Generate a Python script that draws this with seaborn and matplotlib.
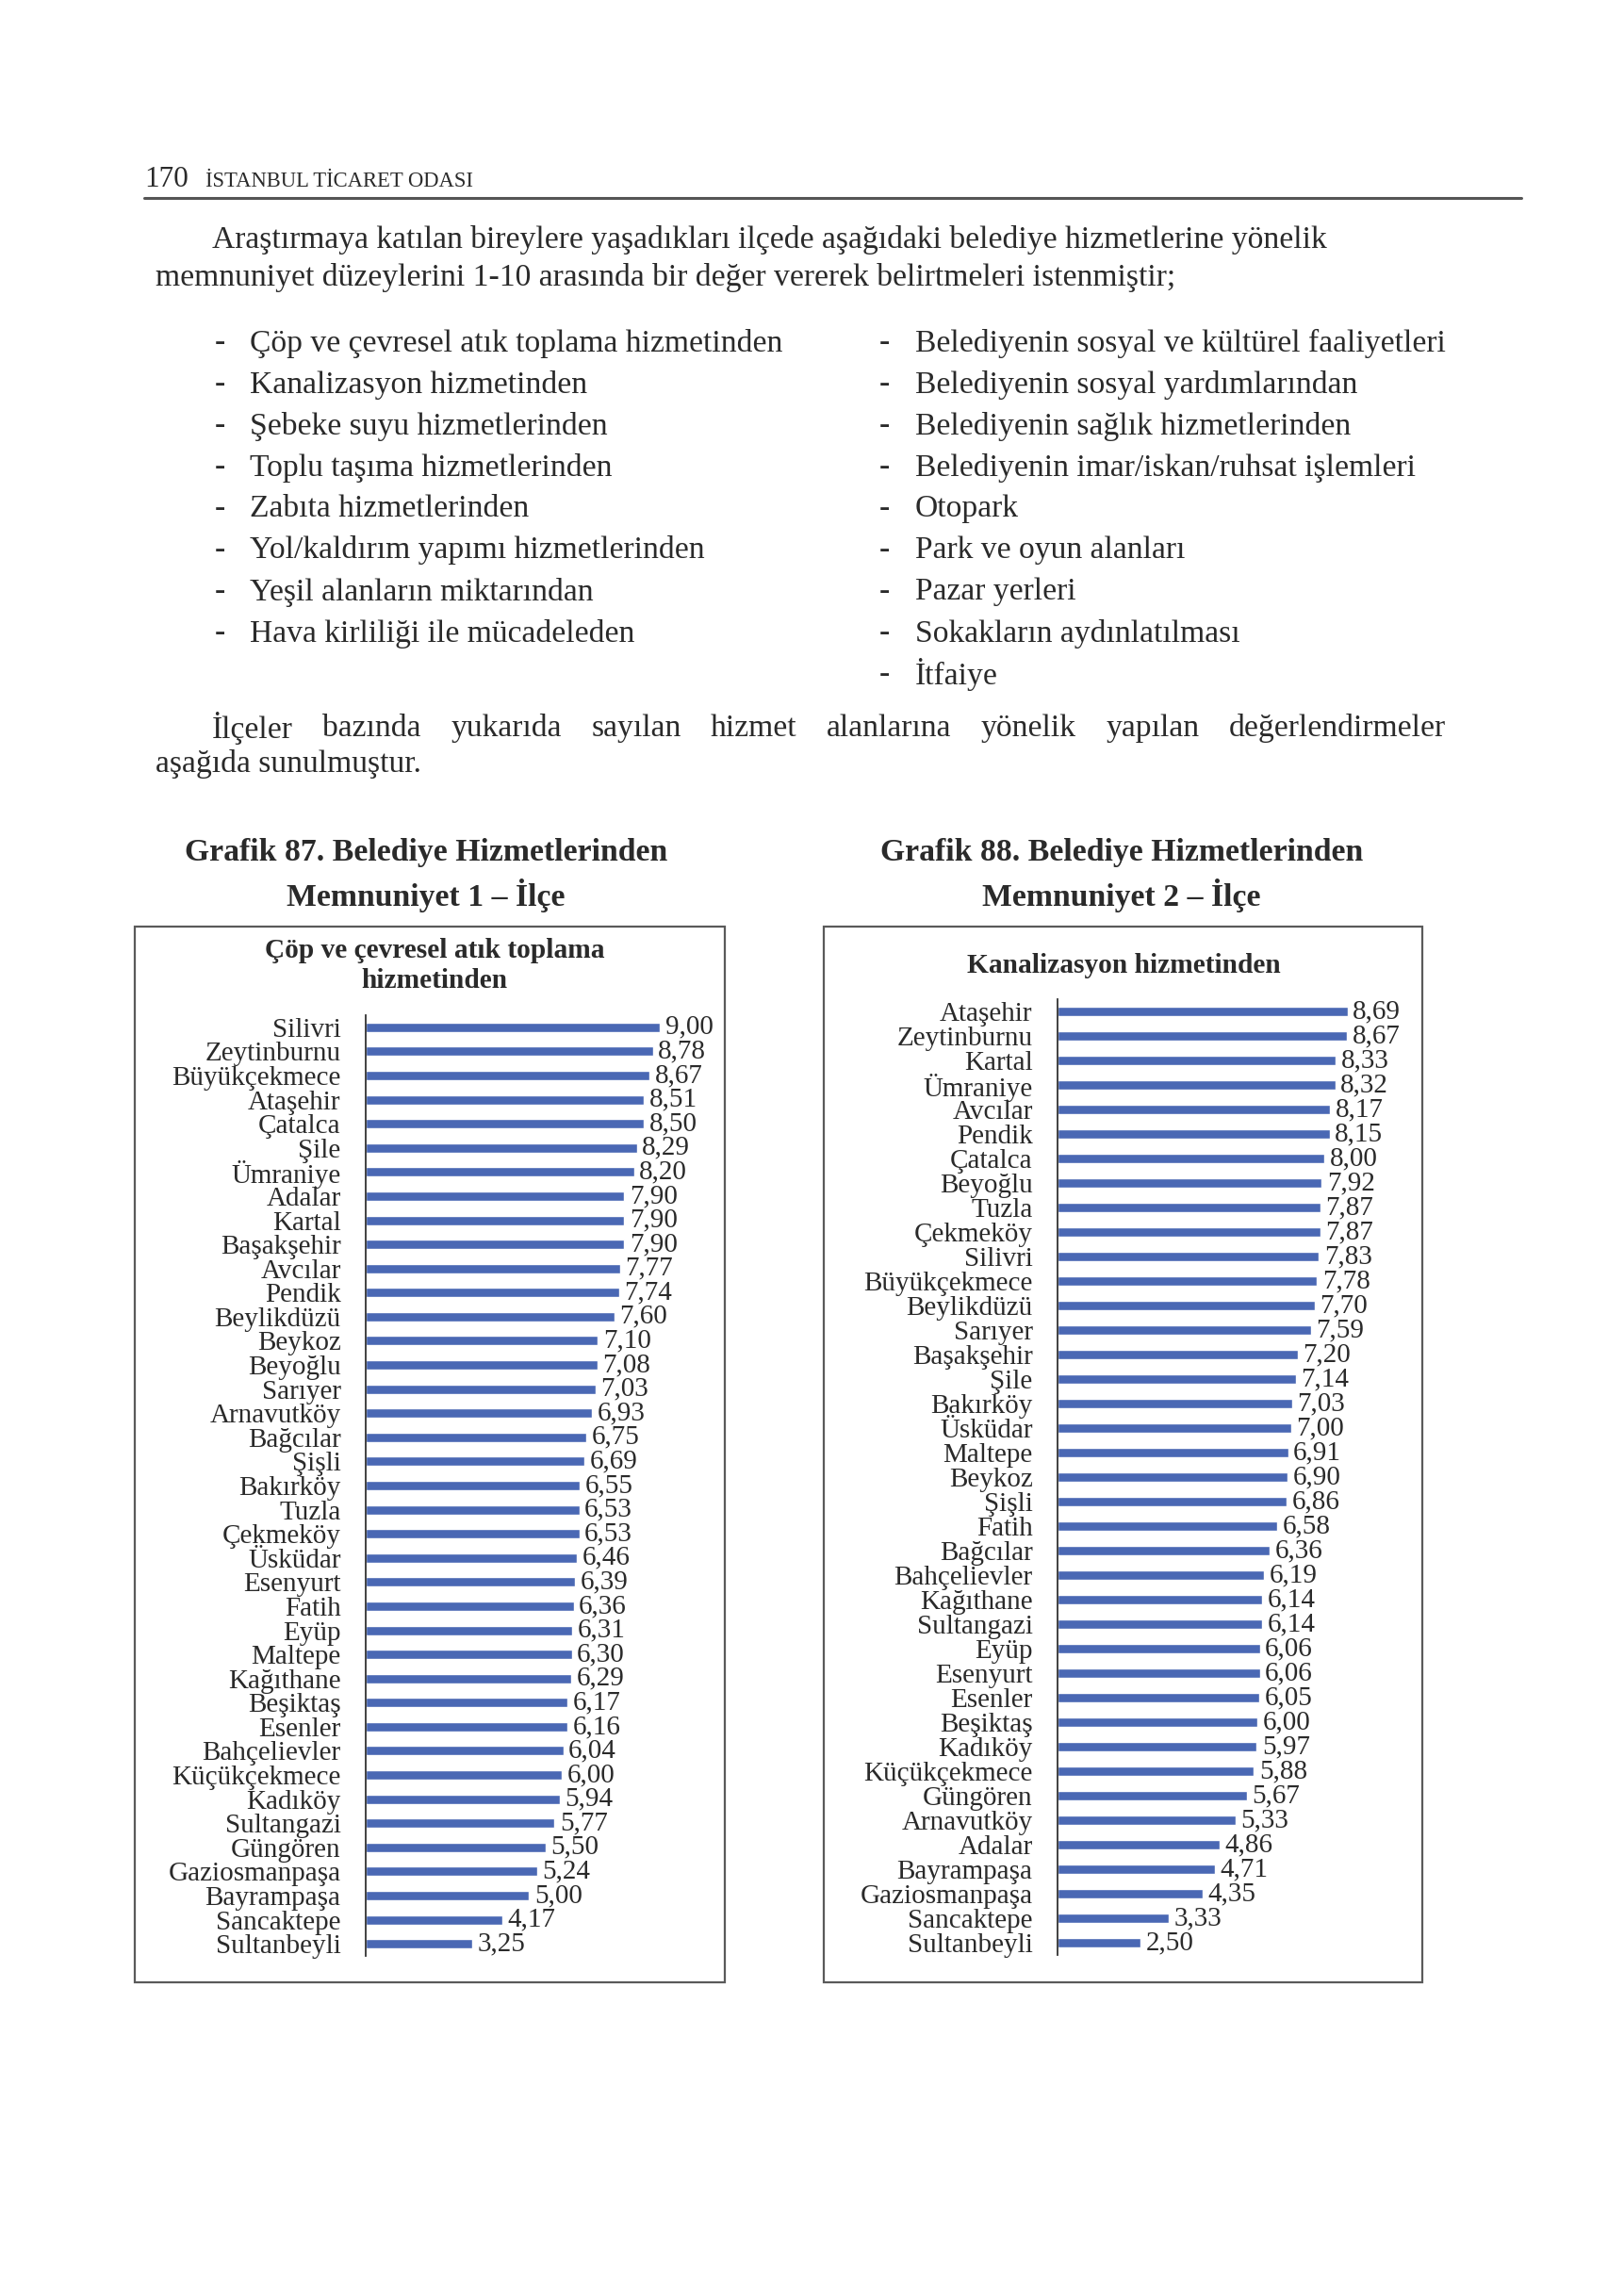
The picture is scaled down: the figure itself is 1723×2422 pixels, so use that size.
import matplotlib
matplotlib.use("Agg")
import matplotlib.pyplot as plt
import seaborn as sns
import pandas as pd
from matplotlib.patches import Rectangle
from matplotlib.lines import Line2D

# ---------------- data ----------------
districts_1 = ["Silivri", "Zeytinburnu", "Büyükçekmece", "Ataşehir", "Çatalca", "Şile",
               "Ümraniye", "Adalar", "Kartal", "Başakşehir", "Avcılar", "Pendik",
               "Beylikdüzü", "Beykoz", "Beyoğlu", "Sarıyer", "Arnavutköy", "Bağcılar",
               "Şişli", "Bakırköy", "Tuzla", "Çekmeköy", "Üsküdar", "Esenyurt", "Fatih",
               "Eyüp", "Maltepe", "Kağıthane", "Beşiktaş", "Esenler", "Bahçelievler",
               "Küçükçekmece", "Kadıköy", "Sultangazi", "Güngören", "Gaziosmanpaşa",
               "Bayrampaşa", "Sancaktepe", "Sultanbeyli"]
values_1 = [9.00, 8.78, 8.67, 8.51, 8.50, 8.29, 8.20, 7.90, 7.90, 7.90, 7.77, 7.74,
            7.60, 7.10, 7.08, 7.03, 6.93, 6.75, 6.69, 6.55, 6.53, 6.53, 6.46, 6.39,
            6.36, 6.31, 6.30, 6.29, 6.17, 6.16, 6.04, 6.00, 5.94, 5.77, 5.50, 5.24,
            5.00, 4.17, 3.25]

districts_2 = ["Ataşehir", "Zeytinburnu", "Kartal", "Ümraniye", "Avcılar", "Pendik",
               "Çatalca", "Beyoğlu", "Tuzla", "Çekmeköy", "Silivri", "Büyükçekmece",
               "Beylikdüzü", "Sarıyer", "Başakşehir", "Şile", "Bakırköy", "Üsküdar",
               "Maltepe", "Beykoz", "Şişli", "Fatih", "Bağcılar", "Bahçelievler",
               "Kağıthane", "Sultangazi", "Eyüp", "Esenyurt", "Esenler", "Beşiktaş",
               "Kadıköy", "Küçükçekmece", "Güngören", "Arnavutköy", "Adalar",
               "Bayrampaşa", "Gaziosmanpaşa", "Sancaktepe", "Sultanbeyli"]
values_2 = [8.69, 8.67, 8.33, 8.32, 8.17, 8.15, 8.00, 7.92, 7.87, 7.87, 7.83, 7.78,
            7.70, 7.59, 7.20, 7.14, 7.03, 7.00, 6.91, 6.90, 6.86, 6.58, 6.36, 6.19,
            6.14, 6.14, 6.06, 6.06, 6.05, 6.00, 5.97, 5.88, 5.67, 5.33, 4.86, 4.71,
            4.35, 3.33, 2.50]

chart_title_1 = "Çöp ve çevresel atık toplama\nhizmetinden"
chart_title_2 = "Kanalizasyon hizmetinden"
heading_1 = ["Grafik 87. Belediye Hizmetlerinden", "Memnuniyet 1 – İlçe"]
heading_2 = ["Grafik 88. Belediye Hizmetlerinden", "Memnuniyet 2 – İlçe"]

bullets_left = ["Çöp ve çevresel atık toplama hizmetinden",
                "Kanalizasyon hizmetinden",
                "Şebeke suyu hizmetlerinden",
                "Toplu taşıma hizmetlerinden",
                "Zabıta hizmetlerinden",
                "Yol/kaldırım yapımı hizmetlerinden",
                "Yeşil alanların miktarından",
                "Hava kirliliği ile mücadeleden"]
bullets_right = ["Belediyenin sosyal ve kültürel faaliyetleri",
                 "Belediyenin sosyal yardımlarından",
                 "Belediyenin sağlık hizmetlerinden",
                 "Belediyenin imar/iskan/ruhsat işlemleri",
                 "Otopark",
                 "Park ve oyun alanları",
                 "Pazar yerleri",
                 "Sokakların aydınlatılması",
                 "İtfaiye"]
para1 = ["Araştırmaya katılan bireylere yaşadıkları ilçede aşağıdaki belediye hizmetlerine yönelik",
         "memnuniyet düzeylerini 1-10 arasında bir değer vererek belirtmeleri istenmiştir;"]
para2_line1 = "İlçeler bazında yukarıda sayılan hizmet alanlarına yönelik yapılan değerlendirmeler"
para2_line2 = "aşağıda sunulmuştur."

# ---------------- setup ----------------
W, H = 1724, 2422
DPI = 100
sns.set_theme(style="white")
plt.rcParams['font.family'] = ['Liberation Serif', 'DejaVu Serif']

TEXT = '#2a2a2a'
BAR = '#4a68b4'

fig = plt.figure(figsize=(W / DPI, H / DPI), dpi=DPI, facecolor='white')


def fx(x):
    return x / W


def fy(y):
    return 1 - y / H


def ptext(x, y, s, size, ha='left', weight='normal', **kw):
    return fig.text(fx(x), fy(y), s, fontsize=size, ha=ha, va='center',
                    color=TEXT, fontweight=weight, **kw)


BODY = 24.2

# header
ptext(153, 190, "170", 22.5)
ptext(218, 193, "İSTANBUL TİCARET ODASI", 16.3)
fig.add_artist(Line2D([fx(153), fx(1614)], [fy(210), fy(210)], color='#555555', lw=2.2))

# paragraph 1
ptext(225, 254, para1[0], BODY)
ptext(165, 295, para1[1], BODY)

# bullets
for i, s in enumerate(bullets_left):
    y = 364 + i * 44.0
    ptext(228, y, "-", BODY)
    ptext(265, y, s, BODY)
for i, s in enumerate(bullets_right):
    y = 364 + i * 44.0
    ptext(933, y, "-", BODY)
    ptext(971, y, s, BODY)

# paragraph 2 (justified first line)
renderer = fig.canvas.get_renderer()
words = para2_line1.split()
wt = [ptext(0, 0, w, BODY) for w in words]
widths = [t.get_window_extent(renderer).width for t in wt]
x0, x1 = 225, 1534
gap = (x1 - x0 - sum(widths)) / (len(words) - 1)
xx = x0
for t, w in zip(wt, widths):
    t.set_position((fx(xx), fy(773)))
    xx += w + gap
ptext(165, 811, para2_line2, BODY)

# headings
HEAD = 24.3
ptext(452, 905, heading_1[0], HEAD, ha='center', weight='bold')
ptext(452, 950, heading_1[1], HEAD, ha='center', weight='bold')
ptext(1190, 905, heading_2[0], HEAD, ha='center', weight='bold')
ptext(1190, 950, heading_2[1], HEAD, ha='center', weight='bold')

# boxes
for (bx0, by0, bx1, by1) in [(143, 983, 769, 2103), (874, 983, 1509, 2103)]:
    fig.add_artist(Rectangle((fx(bx0), fy(by1)), fx(bx1) - fx(bx0), fy(by0) - fy(by1),
                             transform=fig.transFigure, fill=False,
                             edgecolor='#5a5a5a', lw=1.6))

# chart titles
CT = 21.2
ptext(461, 1008, chart_title_1.split("\n")[0], CT, ha='center', weight='bold')
ptext(461, 1041, chart_title_1.split("\n")[1], CT, ha='center', weight='bold')
ptext(1192, 1025, chart_title_2, CT, ha='center', weight='bold')

LBL = 21


def draw_chart(left, top, bottom, width, names, vals):
    ax = fig.add_axes([fx(left), fy(bottom), width / W, (bottom - top) / H])
    df = pd.DataFrame({"district": names, "value": vals})
    sns.barplot(data=df, y="district", x="value", orient="h", color=BAR,
                saturation=1, width=0.39, ax=ax)
    ax.set_xlim(0, 10)
    ax.set_ylim(len(names) - 0.5, -0.5)
    ax.set_facecolor('none')
    for side in ['top', 'right', 'bottom']:
        ax.spines[side].set_visible(False)
    ax.spines['left'].set_color('#333333')
    ax.spines['left'].set_linewidth(1.3)
    ax.xaxis.set_visible(False)
    ax.set_ylabel("")
    ax.tick_params(axis='y', length=0, pad=19, labelsize=LBL, labelcolor=TEXT)
    labels = [f"{v:.2f}".replace(".", ",") for v in vals]
    ax.bar_label(ax.containers[0], labels=labels, padding=4, fontsize=LBL, color=TEXT)
    return ax


draw_chart(388, 1077, 2075, 347, districts_1, values_1)
draw_chart(1122, 1060, 2074, 354, districts_2, values_2)

fig.savefig("out.png", dpi=DPI, facecolor='white')
